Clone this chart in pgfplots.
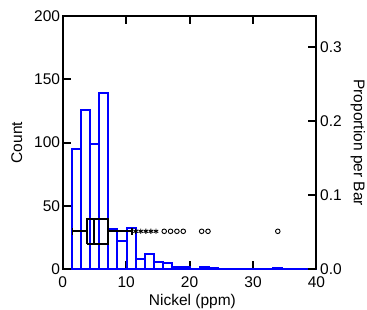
\documentclass[border=0pt]{standalone}
\usepackage{fontspec}
\setmainfont{Liberation Sans}
\usepackage{pgfplots}
\pgfplotsset{compat=1.18}
\begin{document}
\begin{tikzpicture}
\useasboundingbox (-62.7pt,-40.7pt) rectangle (304.3pt,269.3pt);
\pgfplotsset{
  mystyle/.style={
    scale only axis, width=253.8pt, height=253.3pt,
    xmin=0, xmax=40,
    at={(0,0)}, anchor=south west,
    tick align=inside, major tick length=8pt,
    axis line style={line width=2pt},
    every tick/.style={black, line width=2pt},
    tick label style={font=\fontsize{15.5pt}{18pt}\selectfont, inner sep=0pt},
    label style={font=\fontsize{15.5pt}{18pt}\selectfont},
    /pgf/number format/assume math mode=true,
  }
}
\begin{axis}[mystyle,
  ymin=0, ymax=200,
  xtick={0,10,20,30,40}, ytick={0,50,100,150,200},
  xtick pos=both, xticklabel pos=bottom, ytick pos=left,
  xticklabel style={yshift=-7pt},
  yticklabel style={xshift=-2.5pt},
  xlabel={Nickel (ppm)},
  xlabel style={at={(axis description cs:0.511,-0.141)}, anchor=base},
  ylabel={Count},
  ylabel style={at={(axis description cs:-0.181,0.5)}, anchor=center},
]
\addplot[ybar interval, draw=blue, line width=2pt] table {
x y
1.42 95
2.86 126
4.30 99
5.74 139
7.18 32
8.62 22
10.06 33
11.50 8
12.94 12
14.38 6
15.82 5
17.26 2
18.70 2
20.14 0
21.58 2
23.02 1
24.46 0
25.90 0
27.34 0
28.78 0
30.22 0
31.66 0
33.10 1
34.54 0
35.98 0
37.42 0
38.86 0
40.30 0
};
% box plot
\addplot[black, line width=2pt, mark=none] coordinates {(3.88,20) (7.18,20) (7.18,40) (3.88,40) (3.88,20)};
\addplot[black, line width=2pt, mark=none] coordinates {(4.9,20) (4.9,40)};
\addplot[black, line width=2pt, mark=none] coordinates {(1.55,30) (3.88,30)};
\addplot[black, line width=2pt, mark=none] coordinates {(7.18,30) (10.9,30)};
\addplot[black, line width=1.6pt, mark=none] coordinates {(1.55,27) (1.55,33)};
\addplot[black, line width=1.6pt, mark=none] coordinates {(10.9,27) (10.9,33)};
\addplot[only marks, mark=asterisk, mark size=2.6pt, black, line width=0.9pt] coordinates {(11.5,30) (12.3,30) (13.1,30) (13.9,30) (14.7,30)};
\addplot[only marks, mark=o, mark size=2.3pt, black, line width=0.9pt] coordinates {(16.0,30) (17.0,30) (18.0,30) (19.0,30) (21.9,30) (22.9,30) (33.9,30)};
\end{axis}
\begin{axis}[mystyle,
  ymin=0, ymax=0.3419,
  axis x line=none, axis y line*=right,
  ytick={0,0.1,0.2,0.3},
  yticklabel style={/pgf/number format/fixed, /pgf/number format/fixed zerofill, /pgf/number format/precision=1, xshift=3.5pt},
  ylabel={Proportion per Bar},
  ylabel style={at={(axis description cs:1.163,0.5)}, anchor=center, rotate=-180},
]
\addplot[draw=none, forget plot] coordinates {(0,0)};
\end{axis}
\end{tikzpicture}
\end{document}
